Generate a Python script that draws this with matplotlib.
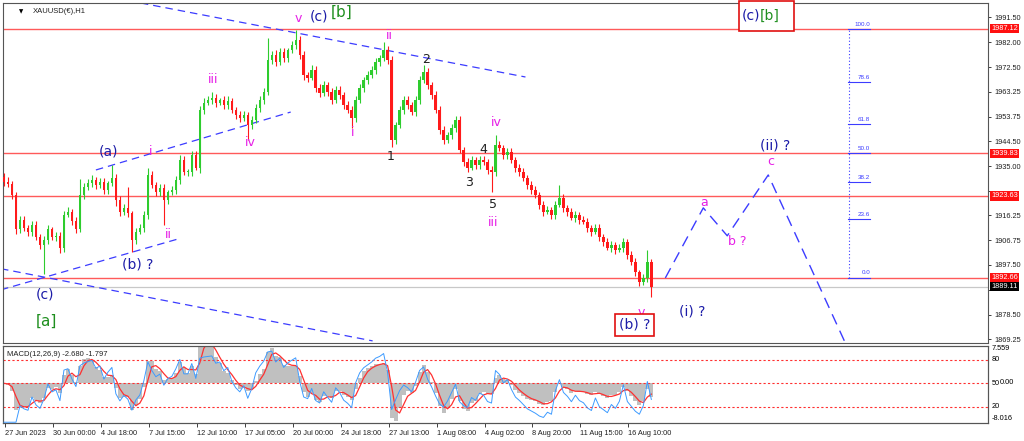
import numpy as np
import pandas as pd
import matplotlib
matplotlib.use("Agg")
import matplotlib.pyplot as plt

closes = [1929, 1928, 1924, 1911, 1914.5, 1911.5, 1910, 1912.7, 1908, 1905,
          1907, 1911, 1908, 1908.5, 1904, 1916.5, 1917.5, 1914, 1911, 1924,
          1927, 1928.5, 1929.7, 1927.8, 1929, 1926, 1928.5, 1930.5, 1922, 1917.5,
          1919, 1917, 1907, 1910, 1911.5, 1916.5, 1931.6, 1927.8, 1925, 1926.6,
          1922, 1925, 1926, 1929.7, 1937.3, 1932.7, 1932.7, 1939.2, 1934.3, 1956.3,
          1959, 1960, 1961, 1959, 1960, 1958, 1959.5, 1956.3, 1954.4, 1953.2,
          1954.4, 1950.6, 1952.5, 1957, 1960, 1963, 1975.3, 1977.2, 1974.5, 1978.3,
          1976, 1979, 1981, 1983, 1977.2, 1969.6, 1968.5, 1971.5, 1964.6, 1962.7,
          1965.8, 1963, 1960, 1963.9, 1962, 1958.2, 1956.3, 1953.2, 1960, 1964.6,
          1967.7, 1969.6, 1971.5, 1974.5, 1976, 1979, 1975.3, 1945, 1950.6, 1956.3,
          1960, 1958.2, 1955.5, 1960, 1967.7, 1970.7, 1965.8, 1962, 1956.3, 1948.7,
          1944.9, 1946.8, 1949.5, 1952.5, 1941.1, 1936.5, 1934.3, 1937.3, 1935.4, 1937.3,
          1936.5, 1933.5, 1932.7, 1943, 1941.8, 1939.2, 1940.3, 1937.3, 1934.3, 1932.7,
          1930.5, 1927.8, 1926, 1924, 1920.3, 1917.7, 1918.4, 1916.5, 1920.3, 1923,
          1919.2, 1917.7, 1915.4, 1916.5, 1914.6, 1913.8, 1911.5, 1910, 1911.5, 1908,
          1906.3, 1904, 1905, 1903.2, 1904, 1906.3, 1901.3, 1898.6, 1894.7, 1891,
          1892.5, 1898.6, 1889.1]
first_open = 1931

# wick length above / below the body
hi_ext = [1.5, 2, 1.5, 1, 1.5, 1.5, 1, 1.5, 1.5, 1,
          1.5, 1.5, 1, 1.5, 1.5, 1.5, 2, 1, 1.5, 6,
          1.5, 1.5, 2, 1, 1.5, 1.5, 1, 5, 1.5, 1.5,
          1.5, 8, 1, 1.5, 1.5, 1.5, 2.7, 1.5, 1, 1.5,
          1.5, 1, 1.5, 1.5, 2, 1.5, 1, 1.5, 1.5, 1.5,
          2, 1.5, 2, 1.5, 1, 1.5, 2, 1.5, 1, 1.5,
          1.5, 1, 1.5, 1.5, 1.5, 1.5, 8.4, 1.5, 2, 1.5,
          1.5, 1, 1.5, 3.7, 1.5, 1.5, 1, 2, 1.5, 1.5,
          1.5, 1, 1.5, 1.5, 1.5, 1, 1.5, 1.5, 1.5, 1.5,
          1, 1.5, 1.5, 1.5, 1, 3, 1.5, 1.5, 1, 1.5,
          1.5, 1.5, 1, 1.5, 1.5, 2.6, 1.5, 1, 1.5, 1.5,
          1.5, 1, 1.5, 1.5, 1.5, 1, 1.5, 1.5, 1, 1.5,
          1.5, 1, 1.5, 3.8, 1.5, 1, 1.5, 1.5, 1, 1.5,
          1.5, 1, 1.5, 1.5, 1, 1.5, 1.5, 1, 1.5, 4.8,
          1.5, 1, 1.5, 1.5, 1, 1.5, 1.5, 1, 1.5, 1.5,
          1, 1.5, 1.5, 1, 1.5, 1.5, 1, 1.5, 1.5, 1,
          1.5, 4.6, 1]
lo_ext = [1.5, 1, 1.5, 2, 1.5, 1, 1.5, 1.5, 1, 1.5,
          11, 1.5, 1, 1.5, 2, 1.5, 1, 1.5, 1.5, 1,
          1.5, 1, 1.5, 1.5, 1, 1.5, 1.5, 1, 2, 1.5,
          1, 1.5, 4.5, 1.5, 1, 1.5, 1.5, 1, 1.5, 1.5,
          9.3, 1.5, 1, 1.5, 1.5, 1, 1.5, 1.5, 1, 2,
          1.5, 1, 1.5, 1.5, 1, 1.5, 1.5, 1, 1.5, 1.5,
          1, 5.6, 1.5, 1, 1.5, 1.5, 1, 1.5, 1.5, 1,
          1.5, 1.5, 1, 1.5, 1.5, 2, 1.5, 1, 1.5, 1.5,
          1, 1.5, 1.5, 1, 1.5, 1.5, 1, 3.7, 1.5, 1,
          1.5, 1.5, 1, 1.5, 1.5, 1, 1.5, 2.7, 1.5, 1,
          1.5, 1.5, 1, 1.5, 1.5, 1, 1.5, 1.5, 1, 1.5,
          1.5, 1, 1.5, 1.5, 1, 1.5, 1.5, 1, 1.5, 1.5,
          1, 1.5, 7.5, 1.5, 1, 1.5, 1.5, 1, 1.5, 1.5,
          1, 1.5, 1.5, 1, 1.5, 1.5, 1, 1.5, 1.5, 1,
          1.5, 1.5, 1, 1.5, 1.5, 1, 1.5, 1.5, 1, 1.5,
          1.5, 1, 1.5, 1.5, 1, 1.5, 1.5, 1, 1.5, 1.5,
          1, 1.5, 3.7]

date_labels = ["27 Jun 2023", "30 Jun 00:00", "4 Jul 18:00", "7 Jul 15:00",
               "12 Jul 10:00", "17 Jul 05:00", "20 Jul 00:00", "24 Jul 18:00",
               "27 Jul 13:00", "1 Aug 08:00", "4 Aug 02:00", "8 Aug 20:00",
               "11 Aug 15:00", "16 Aug 10:00"]
date_pos = [0.25 + 12 * k for k in range(len(date_labels))]

price_ticks = [1991.50, 1982.00, 1972.50, 1963.25, 1953.75, 1944.50, 1935.00,
               1925.50, 1916.25, 1906.75, 1897.50, 1888.00, 1878.50, 1869.25]
hidden_ticks = [1925.50, 1888.00]   # covered by the level boxes
red_levels = [1987.12, 1939.83, 1923.63, 1892.66]
last_price = 1889.11

fib_low, fib_high = 1892.66, 1987.12
fib_ratios = [100.0, 78.6, 61.8, 50.0, 38.2, 23.6, 0.0]

# analyst trend lines (bar index, price)
trend_lines = [
    ([34.25, 130.5], [1996.9, 1968.8]),
    ([-0.75, 92.25], [1896.0, 1868.6]),
    ([-0.75, 44.25], [1888.0, 1907.6]),
    ([23.0, 71.75], [1933.5, 1955.5]),
]
proj_x = [165.5, 175.0, 181.0, 191.25, 212.0]
proj_y = [1892.5, 1919.1, 1908.5, 1931.6, 1863.0]

MAG = "#e61ee6"
NAVY = "#1c1ca8"
GRN = "#1f8f1f"
BLK = "#202020"
labels = [
    ("v", 73.75, 1991.2, MAG, 9), ("(c)", 78.75, 1991.6, NAVY, 10),
    ("[b]", 84.5, 1993.3, GRN, 11), ("ii", 96.5, 1984.4, MAG, 9),
    ("iii", 52.25, 1967.7, MAG, 9), ("iv", 61.75, 1943.8, MAG, 9),
    ("i", 87.25, 1947.6, MAG, 9), ("i", 36.75, 1940.4, MAG, 9),
    ("ii", 41.25, 1909.0, MAG, 9), ("(a)", 26.25, 1940.4, NAVY, 10),
    ("(b) ?", 33.5, 1897.5, NAVY, 10), ("(c)", 10.25, 1886.1, NAVY, 10),
    ("[a]", 10.5, 1875.9, GRN, 11), ("1", 96.75, 1938.5, BLK, 9),
    ("2", 105.5, 1975.3, BLK, 9), ("3", 116.25, 1928.6, BLK, 9),
    ("4", 120.0, 1941.1, BLK, 9), ("5", 122.25, 1920.3, BLK, 9),
    ("iv", 123.25, 1951.7, MAG, 9), ("iii", 122.5, 1913.5, MAG, 9),
    ("v", 159.5, 1879.3, MAG, 9), ("(i) ?", 172.25, 1879.7, NAVY, 10),
    ("a", 175.25, 1921.0, MAG, 9), ("b ?", 183.5, 1906.2, MAG, 9),
    ("c", 192.0, 1936.6, MAG, 9), ("(ii) ?", 193.0, 1942.7, NAVY, 10),
]

plt.rcParams['font.family'] = ['Liberation Sans', 'DejaVu Sans']

closes = np.array(closes, dtype=float)
opens = np.concatenate([[first_open], closes[:-1]])
highs = np.maximum(opens, closes) + np.array(hi_ext)
lows = np.minimum(opens, closes) - np.array(lo_ext)
idx = np.arange(len(closes))
up = closes >= opens
cols = np.where(up, "#2ecc2e", "#ff1a1a")

fig = plt.figure(figsize=(10.24, 4.41), dpi=100)
ax = fig.add_axes([3 / 1024, 1 - 343 / 441, 985 / 1024, 340 / 441])
m = fig.add_axes([3 / 1024, 1 - 423 / 441, 985 / 1024, 77 / 441])

ax.vlines(idx, lows, highs, colors=cols, lw=0.8, zorder=3)
ax.bar(idx, np.maximum(np.abs(closes - opens), 0.3), bottom=np.minimum(opens, closes),
       width=0.6, color=cols, zorder=4)

for lv in red_levels:
    ax.axhline(lv, color="#ff5a5a", lw=1.0, zorder=2)
ax.axhline(last_price, color="#c8c8c8", lw=0.9, zorder=1)

for xs, ys in trend_lines:
    ax.plot(xs, ys, color="#3c3cff", lw=0.9, ls=(0, (6, 4)), zorder=2)
ax.plot(proj_x, proj_y, color="#3c3cff", lw=1.0, ls=(0, (8, 5)), zorder=2)

# fibonacci grid
fib_x = 211.5
ax.plot([fib_x, fib_x], [fib_low, fib_high], color="#3c3cff", lw=0.8, ls=(0, (1, 2)))
for r in fib_ratios:
    lv = fib_low + r / 100 * (fib_high - fib_low)
    ax.plot([fib_x - 0.25, fib_x + 5.25], [lv, lv], color="#3c3cff", lw=0.8)
    ax.text(fib_x + 5.25, lv + 0.8, "%.1f" % r, color="#3c3cff", fontsize=4.5,
            ha="right", va="bottom")

for txt, x, y, c, fs in labels:
    ax.text(x, y, txt, color=c, fontsize=fs, ha="center", va="center",
            family="DejaVu Sans", zorder=6)

ax.text(157.75, 1874.7, "(b) ?", color=NAVY, fontsize=10, ha="center", va="center",
        family="DejaVu Sans", zorder=6,
        bbox=dict(boxstyle="square,pad=0.3", fc="white", ec="#e01010", lw=1.2))
ax.text(190.75, 1992.0, "(c)[b]", color=NAVY, fontsize=10, ha="center", va="center",
        family="DejaVu Sans", zorder=6, alpha=0,
        bbox=dict(boxstyle="square,pad=0.6", fc="white", ec="#e01010", lw=1.2))
ax.text(189.2, 1992.0, "(c)", color=NAVY, fontsize=10, ha="right", va="center",
        family="DejaVu Sans", zorder=7)
ax.text(189.2, 1992.0, "[b]", color=GRN, fontsize=10, ha="left", va="center",
        family="DejaVu Sans", zorder=7)

ax.text(0.0165, 0.982, "\u25bc", transform=ax.transAxes, fontsize=4, color="black",
        family="DejaVu Sans", va="top")
ax.text(0.014 + 0.0165, 0.985, "XAUUSD(\u20ac),H1", transform=ax.transAxes, fontsize=5.5,
        color="#202020", va="top")

ax.set_xlim(-0.25, 246.25)
ax.set_ylim(1867.8, 1996.9)
ax.yaxis.tick_right()
ax.set_yticks(price_ticks)
ax.set_yticklabels(["" if t in hidden_ticks else "%.2f" % t for t in price_ticks])
ax.tick_params(axis="y", labelsize=5.3, length=2.5, width=0.6, pad=2, colors="#202020")
ax.set_xticks([])
for s in ax.spines.values():
    s.set_color("#555555")
    s.set_linewidth(0.8)

tr = ax.get_yaxis_transform()
for lv in red_levels:
    ax.text(1.0035, lv, "%.2f" % lv, transform=tr, fontsize=5.3, color="white",
            va="center", ha="left", zorder=8, clip_on=False,
            bbox=dict(boxstyle="square,pad=0.15", fc="#ff1010", ec="none"))
ax.text(1.0035, last_price, "%.2f" % last_price, transform=tr, fontsize=5.3, color="white",
        va="center", ha="left", zorder=8, clip_on=False,
        bbox=dict(boxstyle="square,pad=0.15", fc="black", ec="none"))

# MACD window (periods scaled for coarse sampling)
s = pd.Series(closes)
macd = s.ewm(span=2.6, adjust=False).mean() - s.ewm(span=6.5, adjust=False).mean()
signal = macd.rolling(2, min_periods=1).mean().ewm(span=1.8, adjust=False).mean()
delta = s.diff().fillna(0)
gain = delta.clip(lower=0).ewm(alpha=1 / 4.5, adjust=False).mean()
loss = (-delta.clip(upper=0)).ewm(alpha=1 / 4.5, adjust=False).mean()
rsi = 100 - 100 / (1 + gain / loss.replace(0, 1e-9))

m.bar(idx, macd, width=1.0, color="#c0c0c0", zorder=2)
m.plot(idx, signal, color="#ff3030", lw=0.9, zorder=4)
m.set_ylim(-8.016, 7.559)
m.set_xlim(-0.25, 246.25)
r_ax = m.twinx()
r_ax.plot(idx, rsi, color="#3d9bff", lw=0.7, zorder=3)
r_ax.set_ylim(-1.0, 97.9)
for lv in (20, 50, 80):
    r_ax.axhline(lv, color="#ff3030", lw=0.8, ls=(0, (2, 2)))
r_ax.set_yticks([])
m.set_yticks([])
m.set_zorder(1)
r_ax.set_zorder(2)

m.text(0.004, 0.93, "MACD(12,26,9) -2.680 -1.797", transform=m.transAxes,
       fontsize=5.5, color="#202020", va="top")
mtr = m.get_yaxis_transform()
rtr = r_ax.get_yaxis_transform()
m.text(1.004, 7.0, "7.559", transform=mtr, fontsize=5.3, va="center")
m.text(1.004, -7.2, "-8.016", transform=mtr, fontsize=5.3, va="center")
r_ax.text(1.004, 80, "80", transform=rtr, fontsize=5.3, va="center")
r_ax.text(1.004, 50, "50", transform=rtr, fontsize=5.3, va="center")
r_ax.text(1.012, 51, "0.00", transform=rtr, fontsize=5.3, va="center")
r_ax.text(1.004, 20, "20", transform=rtr, fontsize=5.3, va="center")

m.set_xticks(date_pos)
m.set_xticklabels(date_labels, ha="left")
m.tick_params(axis="x", labelsize=5.3, length=3, width=0.6, pad=2, colors="#202020")
for s_ in list(m.spines.values()) + list(r_ax.spines.values()):
    s_.set_color("#555555")
    s_.set_linewidth(0.8)

fig.savefig("out.png", dpi=100)
